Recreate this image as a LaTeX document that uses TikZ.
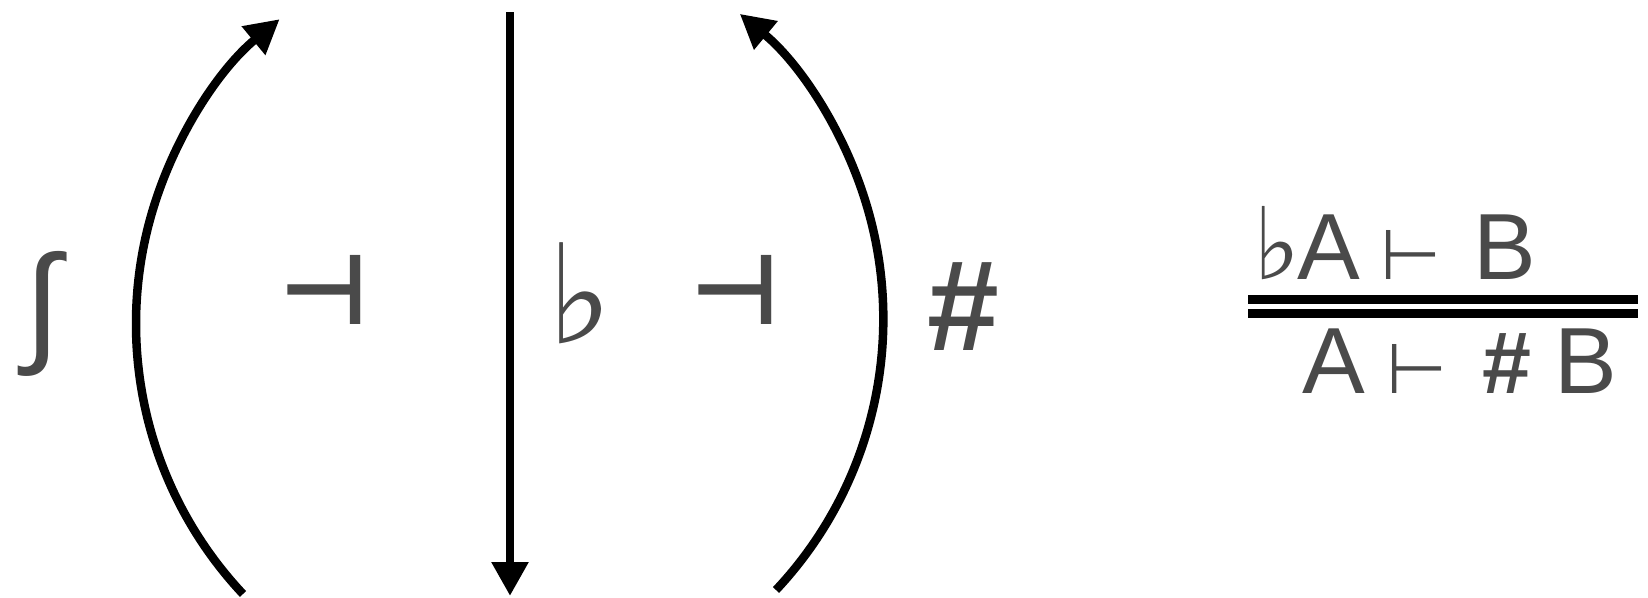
\documentclass[tikz,border=0pt]{standalone}
\usepackage{fontspec}
\setmainfont{Liberation Sans}
\newfontfamily\symf{DejaVu Sans}
\usetikzlibrary{arrows.meta}
\definecolor{ink}{HTML}{4A4A4A}
\begin{document}
\begin{tikzpicture}[x=1pt,y=-1pt,
  bar/.style={line width=8.5pt},
  adj/.style={line width=8.5pt,-{Triangle[length=34pt,width=35pt]}},
  glyph/.style={text=ink,inner sep=0pt,outer sep=0pt}]
\useasboundingbox (0,0) rectangle (1648,597);
\node[glyph,anchor=center] (int) at (43,314) {\fontsize{132}{132}\selectfont ∫};
\node[glyph,anchor=base] (ladj) at (324,324) {\symf\bfseries\fontsize{98}{98}\selectfont ⊣};
\node[glyph,anchor=base] (flat) at (580,343) {\symf\fontsize{138}{138}\selectfont ♭};
\node[glyph,anchor=base] (radj) at (735,324) {\symf\bfseries\fontsize{98}{98}\selectfont ⊣};
\node[glyph,anchor=base] (sharp) at (963,350) {\bfseries\fontsize{129}{129}\selectfont \#};
\coordinate (lb) at (243,594);
\coordinate (rb) at (776,590);
\coordinate (vt) at (510,12);
\coordinate (vb) at (510,596);
\draw[adj] (lb) arc[start angle=136.8, end angle=230.5, radius=394.8];
\draw[adj] (rb) arc[start angle=43.2, end angle=-50.4, radius=396];
\draw[adj] (vt) -- (vb);
\coordinate (b1l) at (1248,299.5);
\coordinate (b1r) at (1638,299.5);
\coordinate (b2l) at (1248,313.5);
\coordinate (b2r) at (1638,313.5);
\draw[bar] (b1l) -- (b1r);
\draw[bar] (b2l) -- (b2r);
\node[glyph,anchor=base west] (prem) at (1253,279) {\makebox[44pt][l]{\symf\fontsize{100}{100}\selectfont ♭}\fontsize{94}{94}\selectfont\makebox[83pt][l]{A}\makebox[93pt][l]{\symf\fontsize{70}{70}\selectfont ⊢}B};
\node[glyph,anchor=base west] (concl) at (1302,393) {\fontsize{94}{94}\selectfont\makebox[84pt][l]{A}\makebox[96pt][l]{\symf\fontsize{70}{70}\selectfont ⊢}\makebox[72pt][l]{\bfseries\fontsize{88}{88}\selectfont\#}B};
\end{tikzpicture}
\end{document}
